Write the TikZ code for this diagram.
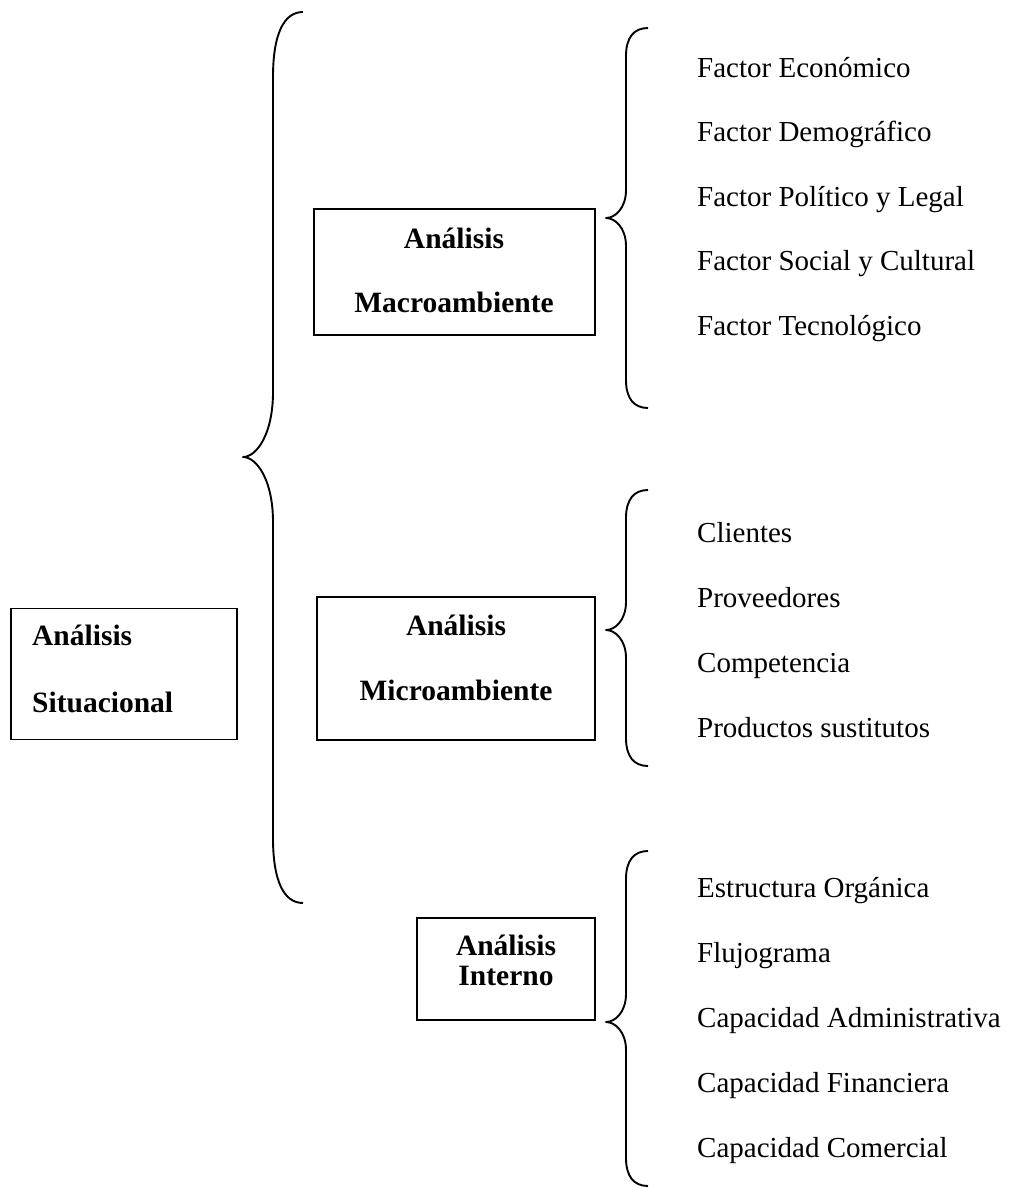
\documentclass[tikz,border=0pt]{standalone}
\usepackage{fontspec}
\setmainfont{Liberation Serif}
\newcommand{\mybrace}[7]{% #1 tip x, #2 line x, #3 end x, #4 top y, #5 mid y, #6 bottom y, #7 curve height
  \draw[bracestyle] (#3,#4) .. controls ({#2+(#3-#2)*0.35},{#4}) and (#2,{#4+#7*0.35}) .. (#2,{#4+#7})
    -- (#2,{#5-#7}) .. controls (#2,{#5-#7*0.35}) and ({#1+(#2-#1)*0.45},{#5}) .. (#1,#5)
    .. controls ({#1+(#2-#1)*0.45},{#5}) and (#2,{#5+#7*0.35}) .. (#2,{#5+#7})
    -- (#2,{#6-#7}) .. controls (#2,{#6-#7*0.35}) and ({#2+(#3-#2)*0.35},{#6}) .. (#3,#6);}
\begin{document}
\begin{tikzpicture}[x=1pt,y=-1pt,
  bracestyle/.style={line width=1.9pt, line join=round},
  boxstyle/.style={draw, line width=1.9pt, inner sep=0pt},
  item/.style={anchor=base west, inner sep=0pt, font=\fontsize{29}{35}\selectfont},
  head/.style={anchor=base, inner sep=0pt, font=\fontsize{29.5}{35}\selectfont\bfseries},
  headl/.style={anchor=base west, inner sep=0pt, font=\fontsize{29.5}{35}\selectfont\bfseries}]
\useasboundingbox[fill=white] (0,0) rectangle (1010,1189);

% boxes
\node[boxstyle, minimum width=226pt, minimum height=131pt] (sitbox) at (124,674) {};
\node[boxstyle, minimum width=281pt, minimum height=126pt] (macbox) at (454.5,272) {};
\node[boxstyle, minimum width=278pt, minimum height=143pt] (micbox) at (456,668.5) {};
\node[boxstyle, minimum width=178pt, minimum height=102pt] (intbox) at (506,969) {};

% box texts
\node[headl] (sit1) at (32,645) {Análisis};
\node[headl] (sit2) at (32,712) {Situacional};
\node[head] (mac1) at (454,248) {Análisis};
\node[head] (mac2) at (454,312) {Macroambiente};
\node[head] (mic1) at (456,635) {Análisis};
\node[head] (mic2) at (456,700) {Microambiente};
\node[head] (int1) at (506,955) {Análisis};
\node[head] (int2) at (506,985) {Interno};

% braces
\mybrace{243}{273}{303}{12}{457}{903}{65}
\mybrace{606}{626}{648}{28}{218}{408}{28}
\mybrace{606}{626}{648}{490}{630}{766}{28}
\mybrace{606}{626}{648}{851}{1022}{1186}{28}

% items
\node[item] (m1) at (697,77) {Factor Económico};
\node[item] (m2) at (697,141.5) {Factor Demográfico};
\node[item] (m3) at (697,206) {Factor Político y Legal};
\node[item] (m4) at (697,270.5) {Factor Social y Cultural};
\node[item] (m5) at (697,335) {Factor Tecnológico};

\node[item] (c1) at (697,542) {Clientes};
\node[item] (c2) at (697,607) {Proveedores};
\node[item] (c3) at (697,672) {Competencia};
\node[item] (c4) at (697,737) {Productos sustitutos};

\node[item] (i1) at (697,897) {Estructura Orgánica};
\node[item] (i2) at (697,962) {Flujograma};
\node[item] (i3) at (697,1027) {Capacidad Administrativa};
\node[item] (i4) at (697,1092) {Capacidad Financiera};
\node[item] (i5) at (697,1157) {Capacidad Comercial};
\end{tikzpicture}
\end{document}
